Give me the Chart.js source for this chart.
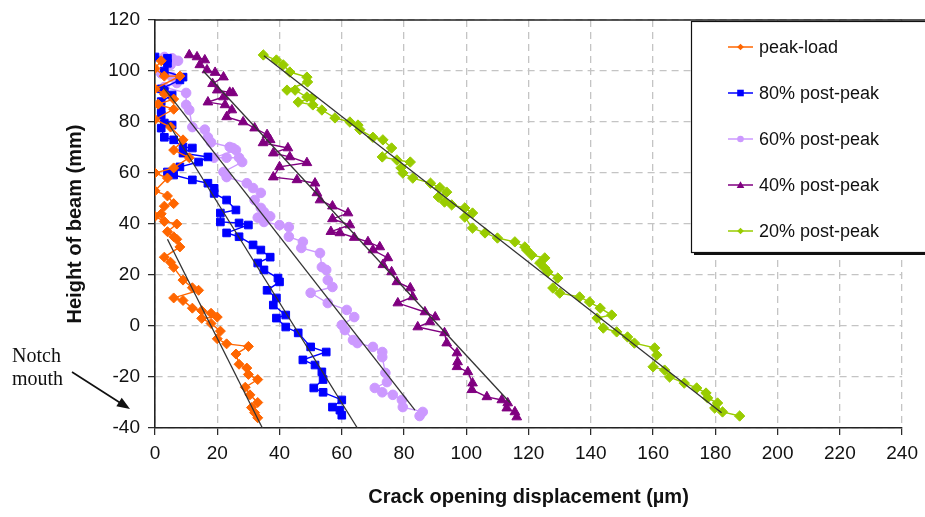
<!DOCTYPE html>
<html>
<head>
<meta charset="utf-8">
<script src="https://cdn.jsdelivr.net/npm/chart.js@4.4.0/dist/chart.umd.min.js"></script>
<style>
  html, body { margin: 0; padding: 0; background: #fff; }
  #wrap { width: 925px; height: 517px; position: relative; }
</style>
</head>
<body>
<div id="wrap"><canvas id="c" width="925" height="517"></canvas></div>
<script>
/* Crack opening profiles along the beam height */

// [crack opening (µm), height (mm)]
const peakLoad = [
  [2,104],[0,101],[3,98],[8,98],[0,93],[3,91],[6,89],[1,87],[6,85],[0,81],[5,78],[9,73],[6,69],[11,66],
  [6,62],[0,60],[4,58],[0,53],[4,51],[6,48],[3,47],[2,44],[0,43],[3,41],[7,40],[4,37],[6,35],[7,34],
  [8,31],[3,27],[5,25],[6,23],[9,18],[12,15],[14,14],[6,11],[9,10],[12,7],[15,6],[18,5],[20,3.5],[15,3],
  [18,1],[21,-2],[20,-5],[23,-7],[30,-8],[26,-11],[27,-15],[29.5,-16.5],[30,-19],[33,-21],[29,-24],
  [30.5,-27],[33,-30],[31,-32],[32,-34],[33,-36]
];
const post80 = [
  [0,105.5],[4,105],[4,103],[3,100],[9,97.6],[8,96.5],[2,93],[3,92],[5.5,90.6],[2,88],[2,84.7],[2,82.7],
  [3,79.6],[5.5,78.8],[2,77.6],[3,74],[6,73],[9,70.2],[12,69.8],[9,67.8],[17,66.3],[14,64.3],[8,62.4],
  [4,60.4],[6,59.2],[12,57.3],[17,56],[19,54],[19,52],[23,49.4],[26,45.5],[21,44.3],[21,40.8],[27,40.4],
  [30,39.6],[23,36.5],[27,35],[31.5,31.8],[34,29.8],[37,27],[33,24.7],[35,22],[39.5,18.8],[40,17.3],
  [36,14],[39,11],[38,8.2],[42,4.3],[39,3.1],[42,-0.4],[46,-2.7],[50,-8.2],[55,-10.2],[47.5,-13.3],
  [51.4,-15.3],[53.6,-18],[54,-21],[51,-24.3],[54,-26],[60,-29],[57,-31.8],[59.4,-33],[60,-35]
];
const post60 = [
  [3,105.5],[5.5,105],[7.4,104],[5,102.4],[2,99],[5.5,97.6],[7,95.3],[3,93.7],[10,91.4],[10,86.7],
  [11,84.7],[12,78],[16,77],[17,74],[18,72],[24,70.2],[25,69.8],[26,69],[19,66],[23,66],[27,66],[28,64.3],
  [22,60.4],[23,58.4],[29.5,56],[31.5,54.1],[34,52.2],[32,49.4],[34,46.3],[35,44.7],[37,43],[33,42.5],
  [35,40.8],[40,39.6],[43,38.8],[43,35],[47.5,33],[47,30.6],[53,28.6],[53.6,23.1],[55,22],[55.5,18],
  [57,15.3],[50,13],[55.5,9],[61.6,6.3],[64,3.5],[60,0.4],[61,-1.6],[63.6,-5.5],[65,-6.7],[70,-8.2],
  [73,-10.2],[73,-12.2],[74,-18.4],[74.5,-22],[70.6,-24.3],[73,-26],[76.4,-27],[79.3,-29],[79.6,-31.8],
  [86,-33.7],[85,-35.3]
];
const post40 = [
  [11,106.3],[13.5,105.5],[16,104.3],[14.4,102.4],[16.7,100.4],[19.3,99.4],[22,97.6],[18.5,95],[20,92.5],
  [24,91.6],[25,91.4],[22,89.8],[17,87.8],[22.5,86.7],[24.7,84.7],[23,82],[28.3,80],[32,77.6],[36,75],
  [37,73],[34.7,71.8],[42.7,69.8],[38,67.8],[43.3,66.3],[48.8,64],[40,62.4],[38,58.4],[45.6,57.3],
  [51.4,56],[52,52.2],[53,49.4],[57,47],[62,44.3],[57,42],[62.6,39.6],[56.5,37],[59.4,36.5],[64,34.7],
  [68.4,33],[72.2,31],[70,29.8],[74.8,26.7],[73.2,24],[76,21.2],[77.7,17.3],[82,14.9],[82.8,11.4],[78,9],
  [86.7,5.5],[90,3.5],[88.3,1.6],[84.4,-0.4],[93,-2.7],[93.7,-6.7],[97,-10.6],[97.2,-14.1],[97,-16],
  [100.5,-18],[102,-22.4],[101.8,-25],[106.6,-27.8],[111.4,-29],[113.3,-30.2],[113,-32.2],[115.6,-33.7],
  [116.2,-35.7]
];
const post20 = [
  [34.8,106.3],[39,104.3],[41.2,102.4],[43.3,99.6],[48.8,97.6],[49,95.7],[42.4,92.5],[45,92.5],[48.8,89.8],
  [50.4,89.4],[46,87.8],[50.7,86.7],[53.6,84.7],[57.8,81.6],[62.6,80],[65.2,78.8],[65.8,77],[70,74],
  [73.2,73],[76,69.8],[73,66.3],[77.7,65.1],[82,64.3],[79,62],[79.6,60],[82.8,58],[88.5,56],[91.5,54.3],
  [93.7,52.5],[91,50.6],[93,48.6],[95.3,47.5],[99.5,46.3],[102,44.3],[99.5,42.7],[102,38.4],[106,36.5],
  [110,34.5],[115.6,33],[118.8,31],[119.4,29.8],[121,27.8],[125.2,26.7],[123.6,24.7],[125.2,22.7],
  [126.2,21.2],[129.4,18.8],[127.8,14.9],[130,12.9],[136.4,11.4],[139.6,9.4],[143,7],[146.7,4.3],[142,3.1],
  [144,-0.8],[148.3,-2.3],[151.8,-4.3],[154,-6.7],[160.5,-8.6],[161.2,-11.4],[160,-16],[163.7,-17.3],
  [165.3,-20],[170,-22.4],[174,-24.3],[177,-26.3],[177.5,-28.2],[180.7,-30.2],[179.8,-32.2],[182.3,-33.7],
  [187.8,-35.3]
];

// linear fits drawn as thin black lines (end points)
const fitPeak = [[4,34],[34.5,-40]];
const fit80   = [[4,80],[65,-40]];
const fit60   = [[2.6,93.7],[83.5,-33]];
const fit40   = [[15.5,100],[114,-30]];
const fit20   = [[35,106],[182,-34]];

const seriesLabels = ['peak-load', '80% post-peak', '60% post-peak', '40% post-peak', '20% post-peak'];
const xTicks = { min: 0, max: 240, step: 20 };
const yTicks = { min: -40, max: 120, step: 20 };

const STYLE = [
  { color: '#FF6600', point: 'rectRot',  r: 5.0 },
  { color: '#0000FF', point: 'rect',     r: 5.4 },
  { color: '#CC99FF', point: 'circle',   r: 4.8 },
  { color: '#800080', point: 'triangle', r: 5.6 },
  { color: '#99CC00', point: 'rectRot',  r: 5.2 },
];

const toXY = (arr) => arr.map(([x, y]) => ({ x, y }));
const FONT = "'Liberation Sans', Arial, sans-serif";
Chart.defaults.font.family = FONT;
Chart.defaults.color = '#111';

const raw = [peakLoad, post80, post60, post40, post20];
const fits = [fitPeak, fit80, fit60, fit40, fit20];

const datasets = raw.map((d, i) => ({
  label: seriesLabels[i],
  data: toXY(d),
  showLine: true,
  borderColor: STYLE[i].color,
  backgroundColor: STYLE[i].color,
  borderWidth: 1.4,
  pointStyle: STYLE[i].point,
  pointRadius: STYLE[i].r,
  pointBorderWidth: 1,
  pointHoverRadius: STYLE[i].r,
  order: 1 + i,
}));
fits.forEach((f) => datasets.push({
  label: '',
  data: toXY(f),
  showLine: true,
  borderColor: '#333',
  borderWidth: 1.3,
  pointRadius: 0,
  order: 0,
}));

function marker(ctx, style, x, y, r, color) {
  ctx.save();
  ctx.fillStyle = color; ctx.strokeStyle = color;
  ctx.beginPath();
  if (style === 'circle') ctx.arc(x, y, r, 0, Math.PI * 2);
  else if (style === 'rect') ctx.rect(x - r, y - r, 2 * r, 2 * r);
  else if (style === 'rectRot') { ctx.moveTo(x, y - r); ctx.lineTo(x + r, y); ctx.lineTo(x, y + r); ctx.lineTo(x - r, y); ctx.closePath(); }
  else if (style === 'triangle') { ctx.moveTo(x, y - r); ctx.lineTo(x + r, y + r * 0.8); ctx.lineTo(x - r, y + r * 0.8); ctx.closePath(); }
  ctx.fill();
  ctx.restore();
}

const extras = {
  id: 'extras',
  afterDraw(chart) {
    const { ctx, chartArea: a } = chart;
    ctx.save();
    // top frame line
    ctx.strokeStyle = '#222'; ctx.lineWidth = 1.5;
    ctx.beginPath(); ctx.moveTo(a.left, a.top); ctx.lineTo(a.right + 30, a.top); ctx.stroke();

    // legend box with shadow
    const bx = 691, by = 21, bw = 260, bh = 231;
    ctx.fillStyle = '#111';
    ctx.fillRect(bx + 3, by + 3, bw, bh);
    ctx.fillStyle = '#fff';
    ctx.fillRect(bx, by, bw, bh);
    ctx.strokeStyle = '#111'; ctx.lineWidth = 1.2;
    ctx.strokeRect(bx + 0.5, by + 0.5, bw, bh);

    ctx.font = '18px ' + FONT;
    ctx.textBaseline = 'middle';
    ctx.textAlign = 'left';
    seriesLabels.forEach((lab, i) => {
      const y = 47 + i * 46;
      const c = STYLE[i].color;
      ctx.strokeStyle = c; ctx.lineWidth = 1.5;
      ctx.beginPath(); ctx.moveTo(728, y); ctx.lineTo(753, y); ctx.stroke();
      marker(ctx, STYLE[i].point, 740.5, y, STYLE[i].point === 'triangle' ? 3.8 : 3.3, c);
      ctx.fillStyle = '#111';
      ctx.fillText(lab, 759, y + 1);
    });

    // notch mouth annotation
    ctx.font = "20px 'Liberation Serif', 'Times New Roman', serif";
    ctx.textBaseline = 'alphabetic';
    ctx.fillStyle = '#111';
    ctx.fillText('Notch', 12, 362);
    ctx.fillText('mouth', 12, 385);
    ctx.strokeStyle = '#111'; ctx.lineWidth = 1.6;
    ctx.beginPath(); ctx.moveTo(72, 372); ctx.lineTo(122, 404); ctx.stroke();
    const tx = 130, ty = 409, ang = Math.atan2(ty - 372, tx - 72);
    ctx.fillStyle = '#111';
    ctx.beginPath();
    ctx.moveTo(tx, ty);
    ctx.lineTo(tx - 13 * Math.cos(ang) + 5 * Math.sin(ang), ty - 13 * Math.sin(ang) - 5 * Math.cos(ang));
    ctx.lineTo(tx - 13 * Math.cos(ang) - 5 * Math.sin(ang), ty - 13 * Math.sin(ang) + 5 * Math.cos(ang));
    ctx.closePath(); ctx.fill();
    ctx.restore();
  },
};

const gridCommon = {
  color: '#C4C4C4', lineWidth: 1.3,
  drawTicks: true, tickLength: 7, tickColor: '#222', tickWidth: 1.2, tickBorderDash: [],
};

new Chart(document.getElementById('c').getContext('2d'), {
  type: 'scatter',
  data: { datasets },
  options: {
    responsive: false, animation: false, devicePixelRatio: 1,
    layout: { padding: { left: 0, top: 20, right: 22, bottom: 0 } },
    plugins: { legend: { display: false }, tooltip: { enabled: false } },
    scales: {
      x: {
        type: 'linear', min: xTicks.min, max: xTicks.max,
        ticks: { stepSize: xTicks.step, padding: 7, font: { size: 19 }, color: '#111', maxRotation: 0 },
        grid: gridCommon,
        border: { display: true, color: '#222', width: 1.6, dash: [7, 5] },
        title: { display: true, text: 'Crack opening displacement (µm)', font: { size: 20, weight: 'bold' }, color: '#111', padding: { top: 0, bottom: 8 } },
        afterFit: (s) => { s.height = 89; },
      },
      y: {
        type: 'linear', min: yTicks.min, max: yTicks.max,
        ticks: { stepSize: yTicks.step, padding: 8, font: { size: 19 }, color: '#111' },
        grid: gridCommon,
        border: { display: true, color: '#222', width: 1.6, dash: [7, 5] },
        title: { display: true, text: 'Height of beam (mm)', font: { size: 20, weight: 'bold' }, color: '#111', padding: { top: 63, bottom: 0 } },
        afterFit: (s) => { s.width = 155; },
      },
    },
  },
  plugins: [extras],
});
</script>
</body>
</html>
